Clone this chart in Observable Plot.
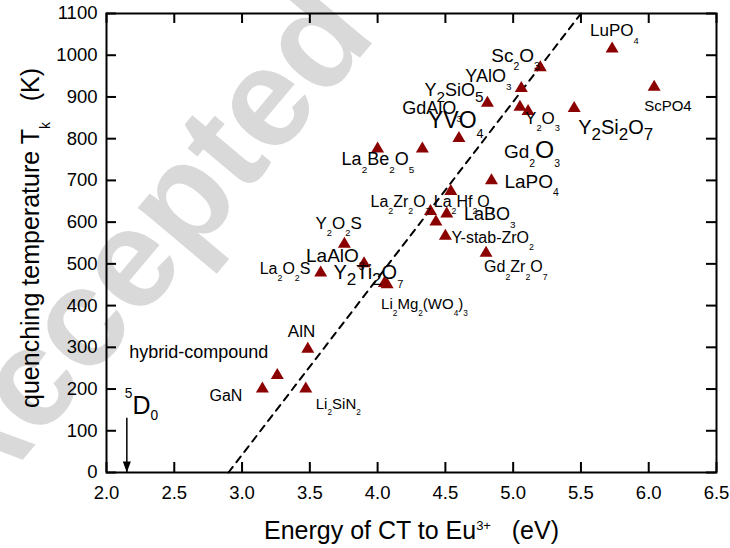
<!DOCTYPE html>
<html><head><meta charset="utf-8">
<script src="https://cdn.jsdelivr.net/npm/d3@7"></script>
<script src="https://cdn.jsdelivr.net/npm/@observablehq/plot@0.6"></script>
<style>
body{margin:0;background:#fff;}
svg text{white-space:pre;}
</style></head><body><div id="chart"></div>
<script>
// ---- data ----
const materials = ["LuPO_4","Sc_2O_3","YAlO_3","Y=2SiO=5","Gd_2~O_3","Y_2O_3","Y=2Si=2O=7","ScPO4","YVO_4","GdAlO_3",
  "La_2Be_2O_5","LaPO_4","","La_2Zr_2O_7","La_2Hf_2O_7","LaBO_3","Y-stab-ZrO_2","Gd_2Zr_2O_7","Y_2O_2S","LaAlO_3",
  "La_2O_2S","Y=2Ti=2O_7","Li_2Mg_2(WO_4)_3","AlN","hybrid-compound","GaN","Li_2SiN_2"];
const energy = [5.73,5.20,5.06,4.81,5.05,5.11,5.45,6.04,4.60,4.33,
  4.00,4.84,4.54,4.39,4.51,4.43,4.50,4.80,3.755,3.90,
  3.58,4.05,4.07,3.485,3.26,3.15,3.47];
const quenchT = [1020,975,925,890,880,870,877,928,805,780,
  780,704,678,630,624,605,571,530,552,505,
  483,458,455,300,237,205,205];
const xTicks = [2.0,2.5,3.0,3.5,4.0,4.5,5.0,5.5,6.0,6.5];
const yTicks = [0,100,200,300,400,500,600,700,800,900,1000,1100];
const fitE = [2.9, 5.5];
const fitT = [0, 1100];
const d0Energy = [2.15];
const d0Top = [130];
const xTitle = "Energy of CT to Eu^{3+}   (eV)";
const yTitle = "quenching temperature T_k   (K)";
const d0Label = "'5D|0";

// ---- label layout (pixel offsets / sizes) ----
const layout = [
  {dx:-22,dy:-16,s:17},{dx:-49,dy:-10,s:19},{dx:-56,dy:-10,s:18},{dx:-63,dy:-11,s:18},{dx:-16,dy:47,s:19},
  {dx:-3,dy:9,s:17},{dx:4,dy:21,s:20},{dx:-10,dy:21,s:15},{dx:-31,dy:-16,s:23},{dx:-20,dy:-39,s:18},
  {dx:-36,dy:12,s:18},{dx:13,dy:3,s:19},null,{dx:-60,dy:-8,s:16},{dx:-13,dy:-10,s:16},
  {dx:28,dy:-6,s:18},{dx:6,dy:4,s:16},{dx:-2,dy:16,s:16},{dx:-29,dy:-19,s:17},{dx:-58,dy:-6,s:19},
  {dx:-61,dy:-2,s:16},{dx:-51,dy:-9,s:20},{dx:-6,dy:22,s:15},{dx:-20,dy:-16,s:17},{dx:-9,dy:-21,s:18,a:"end"},
  {dx:-20,dy:9,s:16,a:"end"},{dx:10,dy:17,s:15}
];

const idx = d3.range(materials.length);
const tri = {draw(ctx){ctx.moveTo(0,-5.5);ctx.lineTo(6.5,5.5);ctx.lineTo(-6.5,5.5);ctx.closePath();}};
const head = {draw(ctx){ctx.moveTo(0,0);ctx.lineTo(-4,-11);ctx.lineTo(4,-11);ctx.closePath();}};
const FH = 548 - 13 - 76, FW = 730 - 106 - 14;

const labelMarks = idx.filter(i => layout[i]).map(i => Plot.text([i], {
  x: i => energy[i], y: i => quenchT[i], text: i => materials[i],
  dx: layout[i].dx, dy: layout[i].dy, fontSize: layout[i].s,
  textAnchor: layout[i].a || "start", fill: "black"
}));

const svg = Plot.plot({
  width: 730, height: 548,
  marginTop: 13, marginBottom: 76, marginLeft: 106, marginRight: 14,
  style: {fontFamily: "'Liberation Sans', Arial, sans-serif", background: "transparent", color: "black"},
  x: {domain: [2, 6.5]},
  y: {domain: [0, 1100]},
  marks: [
    Plot.line([0,1], {x: i => fitE[i], y: i => fitT[i], stroke: "black", strokeWidth: 2, strokeDasharray: "7,6"}),
    Plot.ruleX(xTicks, {insetTop: FH - 10, strokeWidth: 2}),
    Plot.ruleX(xTicks, {insetBottom: FH - 10, strokeWidth: 2}),
    Plot.ruleY(yTicks, {insetRight: FW - 10, strokeWidth: 2}),
    Plot.ruleY(yTicks, {insetLeft: FW - 10, strokeWidth: 2}),
    Plot.axisX({ticks: xTicks, tickSize: 0, tickPadding: 13, tickFormat: d3.format(".1f"), fontSize: 18.5, label: null}),
    Plot.axisY({ticks: yTicks, tickSize: 0, tickPadding: 9, tickFormat: d3.format("d"), fontSize: 18.5, label: null}),
    Plot.text([xTitle], {frameAnchor: "bottom", dy: 58, fontSize: 25, textAnchor: "middle", lineAnchor: "middle"}),
    Plot.text([yTitle], {frameAnchor: "left", dx: -76, dy: -5, rotate: -90, fontSize: 25, textAnchor: "middle", lineAnchor: "middle"}),
    Plot.ruleX(d0Energy, {y1: d0Top[0], y2: 0, strokeWidth: 1.5}),
    Plot.dot(d0Energy, {x: d => d, y: 0, symbol: head, fill: "black", stroke: null}),
    Plot.text(d0Energy, {x: d => d, y: d0Top[0], text: () => d0Label, dx: -2, dy: -12, fontSize: 25, textAnchor: "start"}),
    Plot.dot(idx, {x: i => energy[i], y: i => quenchT[i], symbol: tri, fill: "#8b0000", stroke: null}),
    ...labelMarks,
    Plot.frame({strokeWidth: 2})
  ]
});
document.getElementById("chart").appendChild(svg);

// watermark (behind everything)
d3.select(svg).insert("text", ":first-child")
  .attr("transform", "translate(-27,519) rotate(-50)")
  .attr("text-anchor", "start")
  .attr("font-size", 140).attr("font-weight", "bold")
  .attr("font-family", "'Liberation Sans', Arial, sans-serif")
  .attr("fill", "#d9d9d9")
  .text("Accepted Manuscript");

// rich text: sub/superscripts
const CODES = {
  "_": {scale: .55, shift: .44},
  "|": {scale: .55, shift: .22},
  "=": {scale: .85, shift: .32},
  "^": {scale: .52, shift: -.36},
  "'": {scale: .55, shift: -.64},
  "~": {scale: 1.3, shift: 0}
};
function parseRich(s) {
  const segs = []; let buf = "";
  for (let i = 0; i < s.length; i++) {
    const c = s[i];
    if (CODES[c] && i + 1 < s.length) {
      if (buf) { segs.push({text: buf, code: null}); buf = ""; }
      let t;
      if (s[i+1] === "{") { const j = s.indexOf("}", i + 2); t = s.slice(i + 2, j); i = j; }
      else { t = s[i+1]; i++; }
      segs.push({text: t, code: c});
    } else buf += c;
  }
  if (buf) segs.push({text: buf, code: null});
  return segs;
}
svg.querySelectorAll("text").forEach(el => {
  const raw = el.textContent;
  if (!/[_|=^'~]/.test(raw)) return;
  const fs = parseFloat(getComputedStyle(el).fontSize);
  el.textContent = "";
  let cur = 0;
  for (const seg of parseRich(raw)) {
    const ts = document.createElementNS("http://www.w3.org/2000/svg", "tspan");
    const c = seg.code ? CODES[seg.code] : {scale: 1, shift: 0};
    const sh = c.shift * fs;
    if (sh !== cur) ts.setAttribute("dy", (sh - cur).toFixed(2));
    cur = sh;
    if (c.scale !== 1) ts.setAttribute("font-size", (c.scale * fs).toFixed(2));
    ts.textContent = seg.text;
    el.appendChild(ts);
  }
});
</script></body></html>
